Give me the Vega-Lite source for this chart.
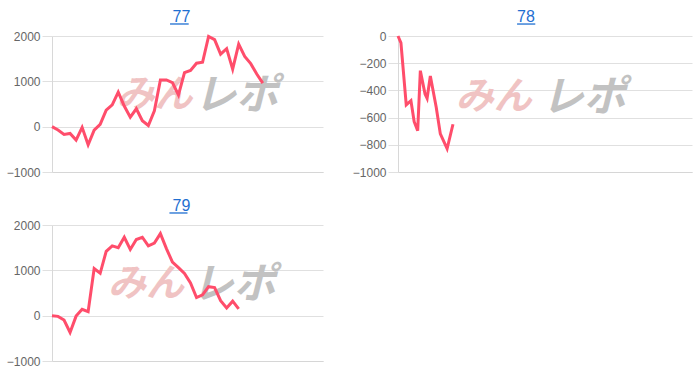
{
  "$schema": "https://vega.github.io/schema/vega-lite/v6.json",
  "padding": {"left": 6, "top": 9, "right": 8, "bottom": 8},
  "config": {
    "font": "Liberation Sans",
    "view": {"stroke": null},
    "axis": {"labelFont": "Liberation Sans", "labelFontSize": 12, "labelColor": "#666666", "gridColor": "#e0e0e0", "gridWidth": 1, "domainColor": "#d8d8d8", "tickColor": "#e0e0e0", "tickSize": 10, "labelPadding": 2, "title": null, "format": "d", "labelOverlap": false},
    "axisY": {"tickCount": 10, "grid": true},
    "axisX": {"labels": false, "ticks": false, "grid": false, "domainColor": "#d6d6d6"},
    "title": {"font": "Liberation Sans", "fontSize": 16, "fontWeight": "normal", "color": "#1f6fd1", "baseline": "alphabetic", "offset": -1.7}
  },
  "datasets": {
    "s77": [
      {"x": 0, "v": 0}, {"x": 1, "v": -75}, {"x": 2, "v": -170}, {"x": 3, "v": -150}, {"x": 4, "v": -295}, {"x": 5, "v": -15},
      {"x": 6, "v": -400}, {"x": 7, "v": -75}, {"x": 8, "v": 50}, {"x": 9, "v": 365}, {"x": 10, "v": 480}, {"x": 11, "v": 760},
      {"x": 12, "v": 455}, {"x": 13, "v": 210}, {"x": 14, "v": 395}, {"x": 15, "v": 130}, {"x": 16, "v": 25}, {"x": 17, "v": 350},
      {"x": 18, "v": 1030}, {"x": 19, "v": 1030}, {"x": 20, "v": 970}, {"x": 21, "v": 700}, {"x": 22, "v": 1190}, {"x": 23, "v": 1240},
      {"x": 24, "v": 1400}, {"x": 25, "v": 1420}, {"x": 26, "v": 1990}, {"x": 27, "v": 1920}, {"x": 28, "v": 1600}, {"x": 29, "v": 1720},
      {"x": 30, "v": 1270}, {"x": 31, "v": 1820}, {"x": 32, "v": 1550}, {"x": 33, "v": 1390}, {"x": 34, "v": 1160}, {"x": 35, "v": 960}
    ],
    "s78": [
      {"x": 0, "v": 0}, {"x": 1.0, "v": -50}, {"x": 2.8, "v": -507}, {"x": 4.4, "v": -476}, {"x": 5.5, "v": -630},
      {"x": 6.7, "v": -696}, {"x": 7.6, "v": -255}, {"x": 9.2, "v": -426}, {"x": 9.9, "v": -458}, {"x": 11.0, "v": -294},
      {"x": 13.0, "v": -524}, {"x": 14.4, "v": -720}, {"x": 16.7, "v": -829}, {"x": 18.7, "v": -649}
    ],
    "s79": [
      {"x": 0, "v": 0}, {"x": 1, "v": -15}, {"x": 2, "v": -95}, {"x": 3, "v": -370}, {"x": 4, "v": -10}, {"x": 5, "v": 140},
      {"x": 6, "v": 90}, {"x": 7, "v": 1040}, {"x": 8, "v": 935}, {"x": 9, "v": 1420}, {"x": 10, "v": 1540}, {"x": 11, "v": 1500},
      {"x": 12, "v": 1730}, {"x": 13, "v": 1460}, {"x": 14, "v": 1680}, {"x": 15, "v": 1730}, {"x": 16, "v": 1540}, {"x": 17, "v": 1600},
      {"x": 18, "v": 1810}, {"x": 19, "v": 1480}, {"x": 20, "v": 1180}, {"x": 21, "v": 1060}, {"x": 22, "v": 930}, {"x": 23, "v": 720},
      {"x": 24, "v": 400}, {"x": 25, "v": 460}, {"x": 26, "v": 640}, {"x": 27, "v": 620}, {"x": 28, "v": 330}, {"x": 29, "v": 170},
      {"x": 30, "v": 320}, {"x": 31, "v": 150}
    ]
  },
  "spacing": 20,
  "vconcat": [
    {
      "spacing": 29,
      "hconcat": [
        {
          "title": {"text": "77", "dx": -6},
          "width": 271, "height": 136,
          "layer": [
            {"data": {"values": [{}]}, "mark": {"type": "text", "text": "みん", "font": "Noto Sans CJK JP", "fontSize": 38, "fontWeight": "bold", "fontStyle": "italic", "color": "#f0c3c3", "baseline": "middle", "align": "center"},
             "encoding": {"x": {"datum": 17.0, "type": "quantitative"}, "y": {"datum": 680, "type": "quantitative"}}},
            {"data": {"values": [{}]}, "mark": {"type": "text", "text": "レポ", "font": "Noto Sans CJK JP", "fontSize": 42, "fontWeight": "bold", "fontStyle": "italic", "color": "#c2c2c2", "baseline": "middle", "align": "center"},
             "encoding": {"x": {"datum": 30.6, "type": "quantitative"}, "y": {"datum": 680, "type": "quantitative"}}},
            {"data": {"values": [{}]}, "mark": {"type": "rule", "color": "#1f6fd1", "strokeWidth": 1.3},
             "encoding": {"x": {"datum": 19.6, "type": "quantitative"}, "x2": {"datum": 22.7}, "y": {"datum": 2265, "type": "quantitative"}}},
            {"data": {"name": "s77"}, "mark": {"type": "line", "color": "#ff4d6b", "strokeWidth": 3},
             "encoding": {
               "x": {"field": "x", "type": "quantitative", "scale": {"domain": [0, 44.3]}},
               "y": {"field": "v", "type": "quantitative", "scale": {"domain": [-1000, 2000]}, "axis": {"values": [-1000, 0, 1000, 2000], "tickCount": 10, "grid": true}}
             }}
          ]
        },
        {
          "title": {"text": "78", "dx": -19},
          "width": 294, "height": 136,
          "layer": [
            {"data": {"values": [{}]}, "mark": {"type": "text", "text": "みん", "font": "Noto Sans CJK JP", "fontSize": 38, "fontWeight": "bold", "fontStyle": "italic", "color": "#f0c3c3", "baseline": "middle", "align": "center"},
             "encoding": {"x": {"datum": 32.6, "type": "quantitative"}, "y": {"datum": -455, "type": "quantitative"}}},
            {"data": {"values": [{}]}, "mark": {"type": "text", "text": "レポ", "font": "Noto Sans CJK JP", "fontSize": 42, "fontWeight": "bold", "fontStyle": "italic", "color": "#c2c2c2", "baseline": "middle", "align": "center"},
             "encoding": {"x": {"datum": 63.2, "type": "quantitative"}, "y": {"datum": -455, "type": "quantitative"}}},
            {"data": {"values": [{}]}, "mark": {"type": "rule", "color": "#1f6fd1", "strokeWidth": 1.3},
             "encoding": {"x": {"datum": 40.5, "type": "quantitative"}, "x2": {"datum": 46.7}, "y": {"datum": 88, "type": "quantitative"}}},
            {"data": {"name": "s78"}, "mark": {"type": "line", "color": "#ff4d6b", "strokeWidth": 3},
             "encoding": {
               "x": {"field": "x", "type": "quantitative", "scale": {"domain": [0, 100]}},
               "y": {"field": "v", "type": "quantitative", "scale": {"domain": [-1000, 0]}, "axis": {"values": [-1000, -800, -600, -400, -200, 0], "tickCount": 10, "grid": true}}
             }}
          ]
        }
      ]
    },
    {
      "title": {"text": "79", "dx": -6},
      "width": 271, "height": 136,
      "layer": [
        {"data": {"values": [{}]}, "mark": {"type": "text", "text": "みん", "font": "Noto Sans CJK JP", "fontSize": 38, "fontWeight": "bold", "fontStyle": "italic", "color": "#f0c3c3", "baseline": "middle", "align": "center"},
         "encoding": {"x": {"datum": 15.6, "type": "quantitative"}, "y": {"datum": 684, "type": "quantitative"}}},
        {"data": {"values": [{}]}, "mark": {"type": "text", "text": "レポ", "font": "Noto Sans CJK JP", "fontSize": 42, "fontWeight": "bold", "fontStyle": "italic", "color": "#c2c2c2", "baseline": "middle", "align": "center"},
         "encoding": {"x": {"datum": 30.2, "type": "quantitative"}, "y": {"datum": 684, "type": "quantitative"}}},
        {"data": {"values": [{}]}, "mark": {"type": "rule", "color": "#1f6fd1", "strokeWidth": 1.3},
         "encoding": {"x": {"datum": 19.5, "type": "quantitative"}, "x2": {"datum": 22.5}, "y": {"datum": 2265, "type": "quantitative"}}},
        {"data": {"name": "s79"}, "mark": {"type": "line", "color": "#ff4d6b", "strokeWidth": 3},
         "encoding": {
           "x": {"field": "x", "type": "quantitative", "scale": {"domain": [0, 44]}},
           "y": {"field": "v", "type": "quantitative", "scale": {"domain": [-1000, 2000]}, "axis": {"values": [-1000, 0, 1000, 2000], "tickCount": 10, "grid": true}}
         }}
      ]
    }
  ]
}
